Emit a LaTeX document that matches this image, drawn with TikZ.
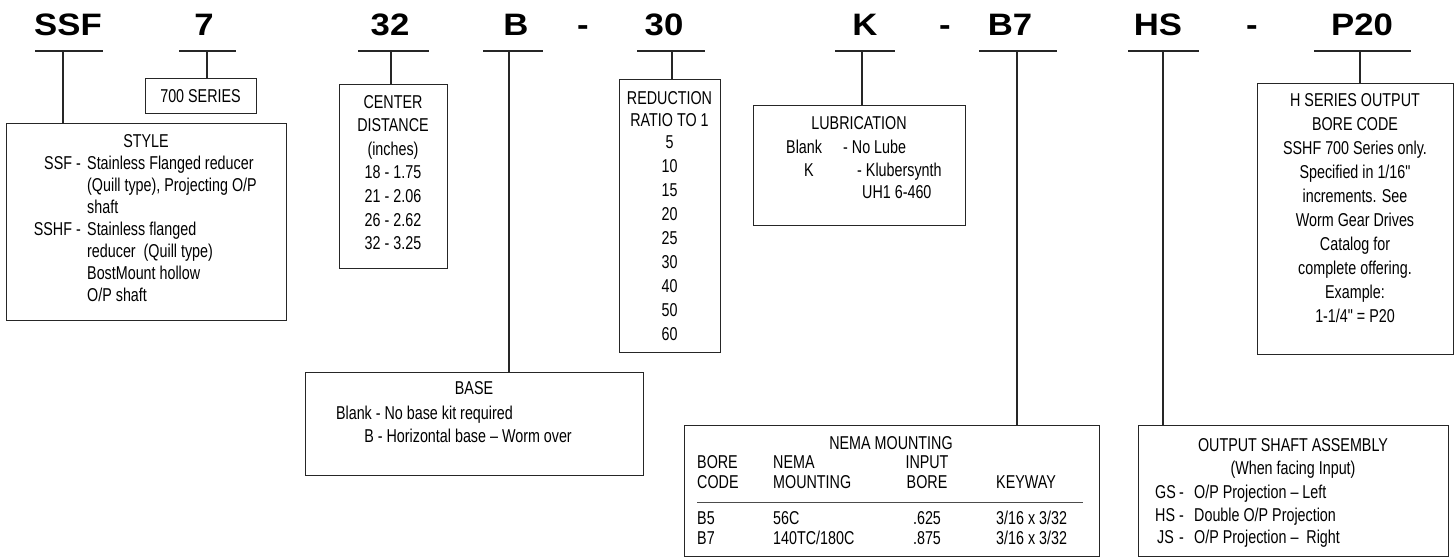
\documentclass[tikz,border=0pt]{standalone}
\usepackage{fontspec}
\newfontfamily\bodyfont{Liberation Sans}[FakeStretch=0.77]
\newfontfamily\hdrfont{Liberation Sans}[FakeStretch=1.12]
\begin{document}
\begin{tikzpicture}[x=1pt,y=-1pt,
  ln/.style={line width=1.2pt, draw=black!85},
  box/.style={ln, rectangle, inner sep=0pt, anchor=north west},
  hd/.style={font=\hdrfont\bfseries\fontsize{31}{31}\selectfont, inner sep=0pt, anchor=base},
  tx/.style={font=\bodyfont\fontsize{18.6}{22}\selectfont, inner sep=0pt, anchor=base},
  txl/.style={tx, anchor=base west},
  txr/.style={tx, anchor=base east}]
\useasboundingbox (0,0) rectangle (1455,558);

% ---------- header codes ----------
\node[hd] (hSSF) at (68,35) {SSF};
\node[hd] (h7) at (204,35) {7};
\node[hd] (h32) at (390,35) {32};
\node[hd] (hB) at (516,35) {B};
\node[hd] (hdA) at (583,35) {-};
\node[hd] (h30) at (664,35) {30};
\node[hd] (hK) at (865,35) {K};
\node[hd] (hdB) at (945,35) {-};
\node[hd] (hB7) at (1010,35) {B7};
\node[hd] (hHS) at (1158,35) {HS};
\node[hd] (hdC) at (1252,35) {-};
\node[hd] (hP20) at (1362,35) {P20};

% ---------- boxes ----------
\node[box, minimum width=280pt, minimum height=197pt] (style) at (6,123) {};
\node[box, minimum width=111pt, minimum height=35pt] (series) at (145,78) {};
\node[box, minimum width=108pt, minimum height=184pt] (center) at (339,84) {};
\node[box, minimum width=101pt, minimum height=273pt] (ratio) at (619,79) {};
\node[box, minimum width=212pt, minimum height=120pt] (lube) at (753,105) {};
\node[box, minimum width=338pt, minimum height=103pt] (base) at (305,372) {};
\node[box, minimum width=415pt, minimum height=131pt] (nema) at (684,425) {};
\node[box, minimum width=310pt, minimum height=131pt] (shaft) at (1138,425) {};
\node[box, minimum width=196pt, minimum height=271pt] (hser) at (1257,83) {};

% ---------- underlines and connectors ----------
\coordinate (uSSFa) at (35,51);  \coordinate (uSSFb) at (103,51);  \coordinate (vSSF) at (63,51);
\coordinate (u7a) at (179,51);   \coordinate (u7b) at (236,51);    \coordinate (v7) at (207,51);
\coordinate (u32a) at (358,51);  \coordinate (u32b) at (429,51);   \coordinate (v32) at (391,51);
\coordinate (uBa) at (483,51);   \coordinate (uBb) at (543,51);    \coordinate (vB) at (509,51);
\coordinate (u30a) at (637,51);  \coordinate (u30b) at (705,51);   \coordinate (v30) at (672,51);
\coordinate (uKa) at (835,51);   \coordinate (uKb) at (895,51);    \coordinate (vK) at (862,51);
\coordinate (uB7a) at (979,51);  \coordinate (uB7b) at (1057,51);  \coordinate (vB7) at (1017,51);
\coordinate (uHSa) at (1128,51); \coordinate (uHSb) at (1199,51);  \coordinate (vHS) at (1163,51);
\coordinate (uP20a) at (1314,51);\coordinate (uP20b) at (1411,51); \coordinate (vP20) at (1360,51);

\draw[ln] (uSSFa) -- (uSSFb); \draw[ln] (vSSF) -- (vSSF |- style.north);
\draw[ln] (u7a) -- (u7b);     \draw[ln] (v7) -- (v7 |- series.north);
\draw[ln] (u32a) -- (u32b);   \draw[ln] (v32) -- (v32 |- center.north);
\draw[ln] (uBa) -- (uBb);     \draw[ln] (vB) -- (vB |- base.north);
\draw[ln] (u30a) -- (u30b);   \draw[ln] (v30) -- (v30 |- ratio.north);
\draw[ln] (uKa) -- (uKb);     \draw[ln] (vK) -- (vK |- lube.north);
\draw[ln] (uB7a) -- (uB7b);   \draw[ln] (vB7) -- (vB7 |- nema.north);
\draw[ln] (uHSa) -- (uHSb);   \draw[ln] (vHS) -- (vHS |- shaft.north);
\draw[ln] (uP20a) -- (uP20b); \draw[ln] (vP20) -- (vP20 |- hser.north);

% ---------- 700 series ----------
\node[tx] (t700) at (200.5,102) {700 SERIES};

% ---------- style ----------
\node[tx] (sT) at (146,147.5) {STYLE};
\node[txr] (sA) at (81,169.5) {SSF -};
\node[txl] (sA1) at (87,169.5) {Stainless Flanged reducer};
\node[txl] (sA2) at (87,191.5) {(Quill type), Projecting O/P};
\node[txl] (sA3) at (87,213.5) {shaft};
\node[txr] (sB) at (81,235.5) {SSHF -};
\node[txl] (sB1) at (87,235.5) {Stainless flanged};
\node[txl] (sB2) at (87,257.5) {reducer\ \ (Quill type)};
\node[txl] (sB3) at (87,279.5) {BostMount hollow};
\node[txl] (sB4) at (87,301.5) {O/P shaft};

% ---------- center distance ----------
\node[tx] (c1) at (393,108.5) {CENTER};
\node[tx] (c2) at (393,131.5) {DISTANCE};
\node[tx] (c3) at (393,155.5) {(inches)};
\node[tx] (c4) at (393,178.5) {18 - 1.75};
\node[tx] (c5) at (393,202.5) {21 - 2.06};
\node[tx] (c6) at (393,226.5) {26 - 2.62};
\node[tx] (c7) at (393,249.5) {32 - 3.25};

% ---------- reduction ----------
\node[tx] (r1) at (669.5,104.5) {REDUCTION};
\node[tx] (r2) at (669.5,126.5) {RATIO TO 1};
\node[tx] (r3) at (669.5,148.5) {5};
\node[tx] (r4) at (669.5,172.5) {10};
\node[tx] (r5) at (669.5,196.5) {15};
\node[tx] (r6) at (669.5,220.5) {20};
\node[tx] (r7) at (669.5,244.5) {25};
\node[tx] (r8) at (669.5,268.5) {30};
\node[tx] (r9) at (669.5,292.5) {40};
\node[tx] (r10) at (669.5,316.5) {50};
\node[tx] (r11) at (669.5,340.5) {60};

% ---------- lubrication ----------
\node[tx] (l1) at (859,129.5) {LUBRICATION};
\node[txl] (l2) at (786,153.5) {Blank};
\node[txl] (l3) at (843,153.5) {- No Lube};
\node[tx] (l4) at (809,176.5) {K};
\node[txl] (l5) at (857,176.5) {- Klubersynth};
\node[txl] (l6) at (862,198.5) {UH1 6-460};

% ---------- base ----------
\node[tx] (b1) at (474,394.5) {BASE};
\node[txr] (b2) at (513,419.5) {Blank - No base kit required};
\node[txr] (b3) at (572,442.5) {B - Horizontal base – Worm over};

% ---------- NEMA ----------
\node[tx] (n0) at (891,449.5) {NEMA MOUNTING};
\node[txl] (n11) at (697,468.5) {BORE};
\node[txl] (n12) at (773,468.5) {NEMA};
\node[tx] (n13) at (927,468.5) {INPUT};
\node[txl] (n21) at (697,488.5) {CODE};
\node[txl] (n22) at (773,488.5) {MOUNTING};
\node[tx] (n23) at (927,488.5) {BORE};
\node[txl] (n24) at (996,488.5) {KEYWAY};
\coordinate (nra) at (697,502); \coordinate (nrb) at (1083,502);
\draw[line width=1pt, draw=black!70] (nra) -- (nrb);
\node[txl] (n31) at (697,524.5) {B5};
\node[txl] (n32) at (773,524.5) {56C};
\node[tx] (n33) at (927,524.5) {.625};
\node[txl] (n34) at (996,524.5) {3/16 x 3/32};
\node[txl] (n41) at (697,544.5) {B7};
\node[txl] (n42) at (773,544.5) {140TC/180C};
\node[tx] (n43) at (927,544.5) {.875};
\node[txl] (n44) at (996,544.5) {3/16 x 3/32};

% ---------- output shaft ----------
\node[tx] (o1) at (1293,451.5) {OUTPUT SHAFT ASSEMBLY};
\node[tx] (o2) at (1293,474.5) {(When facing Input)};
\node[txl] (o31) at (1155,498.5) {GS};
\node[txl] (o32) at (1179,498.5) {-};
\node[txl] (o33) at (1194,498.5) {O/P Projection – Left};
\node[txl] (o41) at (1155,521.5) {HS};
\node[txl] (o42) at (1179,521.5) {-};
\node[txl] (o43) at (1194,521.5) {Double O/P Projection};
\node[txl] (o51) at (1157,543.5) {JS};
\node[txl] (o52) at (1179,543.5) {-};
\node[txl] (o53) at (1194,543.5) {O/P Projection –\ \ Right};

% ---------- H series ----------
\node[tx] (p1) at (1355,106.5) {H SERIES OUTPUT};
\node[tx] (p2) at (1355,130.5) {BORE CODE};
\node[tx] (p3) at (1355,154.5) {SSHF 700 Series only.};
\node[tx] (p4) at (1355,178.5) {Specified in 1/16"};
\node[tx] (p5) at (1355,202.5) {increments. See};
\node[tx] (p6) at (1355,226.5) {Worm Gear Drives};
\node[tx] (p7) at (1355,250.5) {Catalog for};
\node[tx] (p8) at (1355,274.5) {complete offering.};
\node[tx] (p9) at (1355,298.5) {Example:};
\node[tx] (p10) at (1355,322.5) {1-1/4" = P20};
\end{tikzpicture}
\end{document}
